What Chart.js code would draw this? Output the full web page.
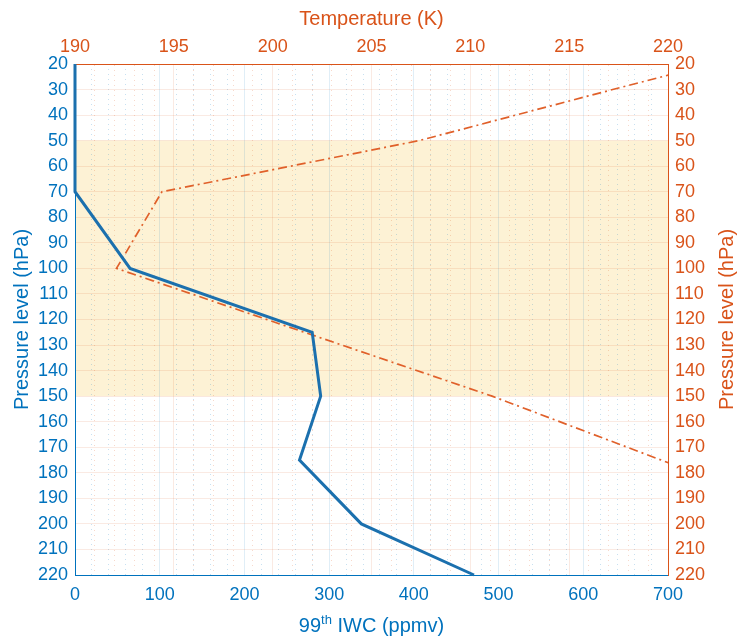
<!DOCTYPE html>
<html>
<head>
<meta charset="utf-8">
<script src="https://cdn.jsdelivr.net/npm/chart.js@4.4.1/dist/chart.umd.min.js"></script>
<style>
  body { margin: 0; background: #fff; }
  #wrap { width: 738px; height: 640px; }
</style>
</head>
<body>
<div id="wrap"><canvas id="myChart"></canvas></div>
<script>
// IWC profile (blue, bottom axis)
const pressureIWC = [20, 30, 50, 70, 100, 125, 150, 175, 200, 220];
const iwc = [0, 0, 0, 0, 65, 280, 290, 265, 338, 471];

// temperature profile (orange, top axis)
const pressureT = [20, 30, 50, 70, 100, 150, 200];
const temperature = [222.2, 217.2, 207.4, 194.4, 192.1, 211.1, 228.2];

// shaded pressure band
const bandRange = [50, 150];

const blue = "#0072BD";
const orange = "#D95319";
const font = "Liberation Sans";

const extras = {
  id: "extras",
  beforeDraw(chart) {
    const { ctx, chartArea } = chart;
    const y = chart.scales.y;
    const top = y.getPixelForValue(bandRange[0]);
    const bottom = y.getPixelForValue(bandRange[1]);
    ctx.save();
    ctx.fillStyle = "#fdf2d5";
    ctx.fillRect(chartArea.left, top, chartArea.right - chartArea.left, bottom - top);
    ctx.restore();
  },
  afterDraw(chart) {
    const { ctx, chartArea } = chart;
    const midX = (chartArea.left + chartArea.right) / 2;
    const midY = (chartArea.top + chartArea.bottom) / 2;

    // bottom title with superscript
    ctx.save();
    ctx.fillStyle = blue;
    ctx.textBaseline = "alphabetic";
    ctx.textAlign = "left";
    const big = "20px '" + font + "'";
    const small = "13px '" + font + "'";
    ctx.font = big;
    const w1 = ctx.measureText("99").width;
    const w3 = ctx.measureText(" IWC (ppmv)").width;
    ctx.font = small;
    const w2 = ctx.measureText("th").width;
    let x = midX - (w1 + w2 + w3) / 2;
    const base = 632;
    ctx.font = big;
    ctx.fillText("99", x, base);
    x += w1;
    ctx.font = small;
    ctx.fillText("th", x, base - 8);
    x += w2;
    ctx.font = big;
    ctx.fillText(" IWC (ppmv)", x, base);
    ctx.restore();

    // right title, reading bottom to top
    ctx.save();
    ctx.fillStyle = orange;
    ctx.font = big;
    ctx.textAlign = "center";
    ctx.textBaseline = "middle";
    ctx.translate(727, midY);
    ctx.rotate(-Math.PI / 2);
    ctx.fillText("Pressure level (hPa)", 0, 0);
    ctx.restore();
  },
};

const ctx = document.getElementById("myChart");

new Chart(ctx, {
  type: "scatter",
  data: {
    datasets: [
      {
        label: "IWC",
        data: pressureIWC.map((p, i) => ({ x: iwc[i], y: p })),
        xAxisID: "x",
        yAxisID: "y",
        showLine: true,
        borderColor: "#1b70ae",
        borderWidth: 3,
        pointRadius: 0,
        clip: false,
      },
      {
        label: "Temperature",
        data: pressureT.map((p, i) => ({ x: temperature[i], y: p })),
        xAxisID: "x2",
        yAxisID: "y",
        showLine: true,
        borderColor: "#e0602a",
        borderWidth: 1.7,
        borderDash: [9, 4, 2, 4],
        pointRadius: 0,
      },
    ],
  },
  options: {
    responsive: true,
    maintainAspectRatio: false,
    animation: false,
    layout: { padding: 0 },
    plugins: {
      legend: { display: false },
      tooltip: { enabled: false },
    },
    scales: {
      x: {
        type: "linear",
        position: "bottom",
        min: 0,
        max: 700,
        afterFit: (s) => { s.height = 65; },
        ticks: {
          stepSize: 20,
          autoSkip: false,
          maxRotation: 0,
          padding: 9,
          color: blue,
          font: { family: font, size: 18 },
          callback: (v) => (v % 100 === 0 ? v : ""),
        },
        grid: {
          drawTicks: false,
          color: (c) => (c.tick && c.tick.value % 100 === 0 ? "rgba(0,114,189,0.12)" : "rgba(0,114,189,0.22)"),
        },
        border: {
          color: blue,
          dash: (c) => (c.tick && c.tick.value % 100 !== 0 ? [1, 4] : []),
        },
      },
      x2: {
        type: "linear",
        position: "top",
        min: 190,
        max: 220,
        afterFit: (s) => { s.height = 64; },
        title: {
          display: true,
          text: "Temperature (K)",
          color: orange,
          font: { family: font, size: 20 },
          padding: { top: 7, bottom: 0 },
        },
        ticks: {
          stepSize: 1,
          autoSkip: false,
          maxRotation: 0,
          padding: 6,
          color: orange,
          font: { family: font, size: 18 },
          callback: (v) => (v % 5 === 0 ? v : ""),
        },
        grid: {
          drawTicks: false,
          color: (c) => (c.tick && c.tick.value % 5 === 0 ? "rgba(217,83,25,0.12)" : "rgba(217,83,25,0.22)"),
        },
        border: {
          color: orange,
          dash: (c) => (c.tick && c.tick.value % 5 !== 0 ? [1, 4] : []),
        },
      },
      y: {
        type: "linear",
        position: "left",
        min: 20,
        max: 220,
        reverse: true,
        afterFit: (s) => { s.width = 75; },
        title: {
          display: true,
          text: "Pressure level (hPa)",
          color: blue,
          font: { family: font, size: 20 },
          padding: { top: 10, bottom: 0 },
        },
        ticks: {
          stepSize: 10,
          autoSkip: false,
          padding: 7,
          color: blue,
          font: { family: font, size: 18 },
        },
        grid: { display: false, drawTicks: false },
        border: { color: blue },
      },
      y2: {
        type: "linear",
        position: "right",
        min: 20,
        max: 220,
        reverse: true,
        afterFit: (s) => { s.width = 70; },
        ticks: {
          stepSize: 10,
          autoSkip: false,
          padding: 7,
          color: orange,
          font: { family: font, size: 18 },
        },
        grid: { drawTicks: false, color: "rgba(217,83,25,0.12)" },
        border: { color: orange },
      },
    },
  },
  plugins: [extras],
});
</script>
</body>
</html>
